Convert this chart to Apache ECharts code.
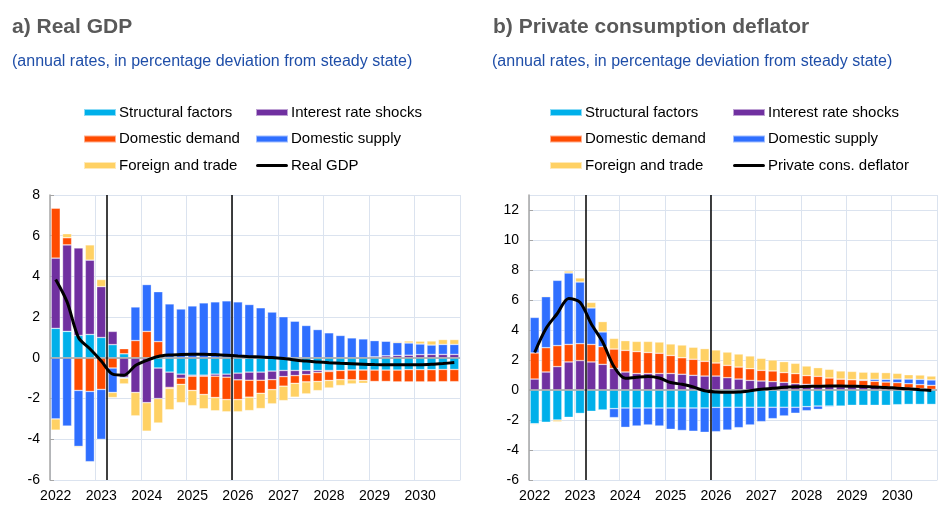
<!DOCTYPE html>
<html>
<head>
<meta charset="utf-8">
<script src="https://cdn.jsdelivr.net/npm/echarts@6/dist/echarts.min.js"></script>
<style>
html,body{margin:0;padding:0;background:#fff;}
#c{width:939px;height:506px;}
</style>
</head>
<body>
<div id="c"></div>
<script>
// Quarters 2022Q1 .. 2030Q4
const years = [2022,2023,2024,2025,2026,2027,2028,2029,2030];
const quarters = [];
years.forEach(y => { for (let q = 1; q <= 4; q++) quarters.push(y + 'Q' + q); });

// Vertical marker lines (quarter boundaries, counted from 2022Q1 start)
const phaseBreaks = [5, 16];

// ---- Panel a) Real GDP ----
const gdpStructural = [1.45,1.3,1.1,1.15,1.0,0.65,0.2,0,0,-0.5,-0.7,-0.8,-0.85,-0.85,-0.8,-0.8,-0.75,-0.7,-0.7,-0.65,-0.62,-0.62,-0.62,-0.62,-0.62,-0.62,-0.6,-0.6,-0.6,-0.6,-0.6,-0.58,-0.58,-0.58,-0.57,-0.57];
const gdpInterest   = [3.45,4.25,4.3,3.65,2.5,0.65,-0.95,-1.7,-2.2,-1.5,-0.75,-0.2,-0.05,-0.05,-0.1,-0.15,-0.33,-0.4,-0.4,-0.42,-0.3,-0.25,-0.2,-0.1,-0.05,0,0,0,0.05,0.1,0.12,0.13,0.16,0.17,0.17,0.17];
const gdpDemand     = [2.45,0.35,-1.6,-1.65,-1.55,-0.5,0.25,0.85,1.3,0.8,-0.05,-0.3,-0.7,-0.9,-1.05,-1.1,-0.97,-0.83,-0.64,-0.49,-0.47,-0.38,-0.36,-0.44,-0.44,-0.45,-0.48,-0.51,-0.56,-0.56,-0.58,-0.6,-0.6,-0.6,-0.6,-0.6];
const gdpSupply     = [-3.0,-3.35,-2.75,-3.45,-2.45,-1.2,-0.05,1.65,2.3,2.45,2.65,2.4,2.55,2.7,2.75,2.8,2.75,2.62,2.46,2.25,2.02,1.8,1.59,1.39,1.23,1.1,0.98,0.93,0.8,0.72,0.63,0.6,0.52,0.46,0.49,0.49];
const gdpForeign    = [-0.55,0.2,-0.05,0.75,0.35,-0.25,-0.28,-1.15,-1.4,-1.2,-1.05,-0.9,-0.75,-0.7,-0.65,-0.6,-0.6,-0.66,-0.75,-0.7,-0.71,-0.68,-0.59,-0.45,-0.37,-0.29,-0.2,-0.14,0,0.02,0.05,0.1,0.14,0.2,0.24,0.24];
const gdpLine       = [3.85,2.75,1.0,0.45,-0.15,-0.8,-0.85,-0.38,-0.12,0.07,0.14,0.17,0.18,0.18,0.16,0.13,0.09,0.06,0.04,0.02,-0.03,-0.1,-0.16,-0.2,-0.24,-0.27,-0.29,-0.31,-0.33,-0.34,-0.34,-0.34,-0.34,-0.32,-0.28,-0.23];

// ---- Panel b) Private consumption deflator ----
const pcdStructural = [-2.25,-2.15,-2.0,-1.82,-1.56,-1.42,-1.33,-1.24,-1.2,-1.2,-1.2,-1.2,-1.2,-1.2,-1.2,-1.2,-1.16,-1.15,-1.15,-1.15,-1.15,-1.15,-1.15,-1.15,-1.11,-1.07,-1.07,-1.07,-1.02,-1.02,-1.02,-1.02,-0.98,-0.96,-0.96,-0.96];
const pcdInterest   = [0.73,1.2,1.56,1.87,1.96,1.87,1.71,1.44,1.2,1.1,1.1,1.1,1.1,1.05,0.98,0.93,0.93,0.82,0.73,0.64,0.6,0.56,0.51,0.42,0.38,0.31,0.27,0.22,0.22,0.22,0.2,0.18,0.16,0.13,0.09,0.04];
const pcdDemand     = [1.74,1.62,1.4,1.17,1.13,1.17,1.18,1.29,1.44,1.46,1.4,1.35,1.2,1.1,1.07,0.98,0.87,0.82,0.8,0.78,0.71,0.71,0.65,0.67,0.58,0.6,0.53,0.51,0.47,0.42,0.38,0.35,0.33,0.29,0.27,0.27];
const pcdSupply     = [2.37,3.4,4.35,4.76,4.11,2.43,0.98,-0.6,-1.29,-1.2,-1.13,-1.2,-1.42,-1.5,-1.55,-1.62,-1.62,-1.52,-1.36,-1.18,-0.96,-0.76,-0.58,-0.4,-0.27,-0.22,-0.06,0,0,0.05,0.13,0.18,0.24,0.31,0.35,0.36];
const pcdForeign    = [-0.05,0.05,-0.12,0.13,0.27,0.37,0.69,0.71,0.65,0.68,0.74,0.75,0.77,0.85,0.8,0.85,0.87,0.89,0.87,0.85,0.8,0.73,0.73,0.69,0.64,0.58,0.58,0.54,0.55,0.5,0.47,0.45,0.38,0.29,0.29,0.26];
const pcdLine       = [2.5,4.1,5.1,6.1,5.85,4.4,3.2,1.55,0.78,0.85,0.9,0.8,0.5,0.38,0.2,-0.05,-0.13,-0.15,-0.13,-0.05,0.05,0.11,0.18,0.22,0.24,0.25,0.26,0.26,0.25,0.24,0.2,0.17,0.12,0.08,0.02,-0.03];

const compNames = ['Structural factors','Interest rate shocks','Domestic demand','Domestic supply','Foreign and trade'];
const compColors = ['#00b0ea','#7030a0','#ff4b00','#2f6fff','#ffd164'];

const FONT = '"Liberation Sans", Arial, sans-serif';
const LINE_ICON = 'path://M1.6,0 L30.4,0 A1.6,1.6 0 0 1 30.4,3.2 L1.6,3.2 A1.6,1.6 0 0 1 1.6,0 Z';

function panelSeries(gi, comps, lineName, lineData) {
  const out = comps.map((d, i) => ({
    name: compNames[i], type: 'bar', stack: 'p' + gi,
    xAxisIndex: gi * 2, yAxisIndex: gi,
    data: d, barCategoryGap: '20%',
    itemStyle: { color: compColors[i], borderColor: 'rgba(255,255,255,0.55)', borderWidth: 0.6 },
    emphasis: { disabled: true }
  }));
  out.push({
    name: lineName, type: 'line', xAxisIndex: gi * 2, yAxisIndex: gi,
    data: lineData, symbol: 'none', smooth: 0.3, z: 10,
    lineStyle: { color: '#000', width: 3 }, itemStyle: { color: '#000' },
    markLine: {
      silent: true, symbol: 'none', label: { show: false },
      lineStyle: { color: '#a6a6a6', type: 'solid', width: 1.5 },
      data: [{ yAxis: 0 }]
    }
  });
  out.push({
    name: 'breaks' + gi, type: 'line', xAxisIndex: gi * 2 + 1, yAxisIndex: gi,
    data: [], symbol: 'none',
    markLine: {
      silent: true, symbol: 'none', label: { show: false },
      lineStyle: { color: '#000', type: 'solid', width: 1.5 },
      data: phaseBreaks.map(v => ({ xAxis: v }))
    }
  });
  return out;
}

const gridLineColor = '#dbe3ef';

function catAxis(gi) {
  return {
    type: 'category', gridIndex: gi, data: quarters, boundaryGap: true,
    position: 'bottom',
    axisLine: { onZero: false, show: true, lineStyle: { color: '#dbe3ef' } },
    axisTick: { show: false },
    axisLabel: { interval: 3, color: '#000', fontSize: 14, fontFamily: FONT, margin: 9,
      formatter: v => v.slice(0, 4) },
    splitLine: { show: true, interval: 3, lineStyle: { color: gridLineColor, width: 1 } }
  };
}
function valXAxis(gi) {
  return { type: 'value', gridIndex: gi, min: 0, max: quarters.length, show: false };
}
function valYAxis(gi, min, max) {
  return {
    type: 'value', gridIndex: gi, min: min, max: max, interval: 2,
    axisLine: { show: true, lineStyle: { color: '#a6a6a6', width: 1.5 } },
    axisTick: { show: true, inside: true, length: 4, lineStyle: { color: '#a6a6a6' } },
    axisLabel: { color: '#000', fontSize: 14, fontFamily: FONT, showMaxLabel: max % 2 === 0, margin: 10 },
    splitLine: { show: true, lineStyle: { color: gridLineColor, width: 1 } }
  };
}

function legendCols(left1, left2, names1, names2) {
  const base = {
    orient: 'vertical', top: 104, itemWidth: 32, itemHeight: 7, itemGap: 9.5,
    textStyle: { color: '#000', fontSize: 15, fontFamily: FONT, padding: [0,0,0,-2], lineHeight: 17 },
    selectedMode: false, padding: 0
  };
  const mk = arr => arr.map((n, i) => (arr === names2 && i === 2) ? { name: n, icon: LINE_ICON } : { name: n, icon: 'rect' });
  return [
    Object.assign({}, base, { left: left1, data: mk(names1) }),
    Object.assign({}, base, { left: left2, data: mk(names2) })
  ];
}

const option = {
  animation: false,
  backgroundColor: '#fff',
  title: [
    { text: 'a) Real GDP', left: 12, top: 17, padding: 0, textStyle: { color: '#595959', fontSize: 21, fontWeight: 'bold', fontFamily: FONT } },
    { text: '(annual rates, in percentage deviation from steady state)', left: 12, top: 54, padding: 0, textStyle: { color: '#1f4ea8', fontSize: 16, fontWeight: 'normal', fontFamily: FONT } },
    { text: 'b) Private consumption deflator', left: 493, top: 17, padding: 0, textStyle: { color: '#595959', fontSize: 21, fontWeight: 'bold', fontFamily: FONT } },
    { text: '(annual rates, in percentage deviation from steady state)', left: 492, top: 54, padding: 0, textStyle: { color: '#1f4ea8', fontSize: 16, fontWeight: 'normal', fontFamily: FONT } }
  ],
  legend: [
    ...legendCols(83, 255, ['Structural factors','Domestic demand','Foreign and trade'], ['Interest rate shocks','Domestic supply','Real GDP']),
    ...legendCols(549, 732, ['Structural factors','Domestic demand','Foreign and trade'], ['Interest rate shocks','Domestic supply','Private cons. deflator'])
  ],
  grid: [
    { left: 50, right: 479, top: 195, bottom: 26 },
    { left: 529, right: 2, top: 195, bottom: 26 }
  ],
  xAxis: [catAxis(0), valXAxis(0), catAxis(1), valXAxis(1)],
  yAxis: [valYAxis(0, -6, 8), valYAxis(1, -6, 13)],
  series: [
    ...panelSeries(0, [gdpStructural, gdpInterest, gdpDemand, gdpSupply, gdpForeign], 'Real GDP', gdpLine),
    ...panelSeries(1, [pcdStructural, pcdInterest, pcdDemand, pcdSupply, pcdForeign], 'Private cons. deflator', pcdLine)
  ]
};

const chart = echarts.init(document.getElementById('c'), null, { renderer: 'canvas' });
chart.setOption(option);
</script>
</body>
</html>
